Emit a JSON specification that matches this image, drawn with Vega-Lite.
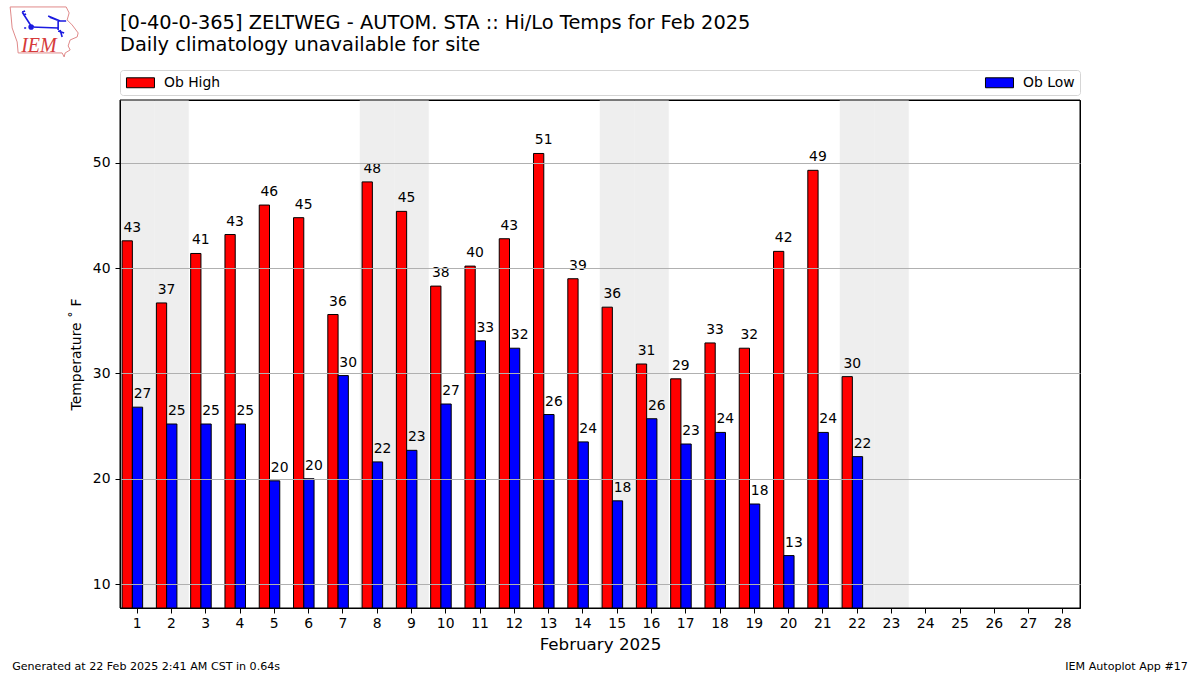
{
"$schema":"https://vega.github.io/schema/vega-lite/v6.json",
"width":960,"height":508,
"autosize":"none",
"padding":{"left":120,"top":100,"right":120,"bottom":67},
"background":"white",
"config":{"font":"DejaVu Sans","view":{"stroke":"#000000","strokeWidth":1}},
"title":{"text":["[0-40-0-365] ZELTWEG - AUTOM. STA :: Hi/Lo Temps for Feb 2025","Daily climatology unavailable for site"],"anchor":"start","frame":"group","font":"DejaVu Sans","fontSize":19.4,"fontWeight":"normal","lineHeight":22,"color":"#000000","offset":-50},
"datasets":{
"temps":[
{"day":1,"series":"Ob High","temp":42.6},{"day":2,"series":"Ob High","temp":36.7},{"day":3,"series":"Ob High","temp":41.4},{"day":4,"series":"Ob High","temp":43.2},{"day":5,"series":"Ob High","temp":46.0},{"day":6,"series":"Ob High","temp":44.8},{"day":7,"series":"Ob High","temp":35.6},{"day":8,"series":"Ob High","temp":48.2},{"day":9,"series":"Ob High","temp":45.4},{"day":10,"series":"Ob High","temp":38.3},{"day":11,"series":"Ob High","temp":40.2},{"day":12,"series":"Ob High","temp":42.8},{"day":13,"series":"Ob High","temp":50.9},{"day":14,"series":"Ob High","temp":39.0},{"day":15,"series":"Ob High","temp":36.3},{"day":16,"series":"Ob High","temp":30.9},{"day":17,"series":"Ob High","temp":29.49},{"day":18,"series":"Ob High","temp":32.9},{"day":19,"series":"Ob High","temp":32.4},{"day":20,"series":"Ob High","temp":41.6},{"day":21,"series":"Ob High","temp":49.3},{"day":22,"series":"Ob High","temp":29.7},
{"day":1,"series":"Ob Low","temp":26.8},{"day":2,"series":"Ob Low","temp":25.2},{"day":3,"series":"Ob Low","temp":25.2},{"day":4,"series":"Ob Low","temp":25.2},{"day":5,"series":"Ob Low","temp":19.8},{"day":6,"series":"Ob Low","temp":20.0},{"day":7,"series":"Ob Low","temp":29.8},{"day":8,"series":"Ob Low","temp":21.6},{"day":9,"series":"Ob Low","temp":22.7},{"day":10,"series":"Ob Low","temp":27.1},{"day":11,"series":"Ob Low","temp":33.1},{"day":12,"series":"Ob Low","temp":32.4},{"day":13,"series":"Ob Low","temp":26.1},{"day":14,"series":"Ob Low","temp":23.5},{"day":15,"series":"Ob Low","temp":17.9},{"day":16,"series":"Ob Low","temp":25.7},{"day":17,"series":"Ob Low","temp":23.3},{"day":18,"series":"Ob Low","temp":24.4},{"day":19,"series":"Ob Low","temp":17.6},{"day":20,"series":"Ob Low","temp":12.7},{"day":21,"series":"Ob Low","temp":24.4},{"day":22,"series":"Ob Low","temp":22.1}
],
"weekend":[{"day":1},{"day":2},{"day":8},{"day":9},{"day":15},{"day":16},{"day":22},{"day":23}]
},
"layer":[
{"data":{"name":"weekend"},"mark":{"type":"rect","fill":"#eeeeee","stroke":"#eeeeee","strokeWidth":0.5},
 "encoding":{"x":{"field":"day","type":"ordinal"}}},
{"data":{"name":"temps"},"mark":{"type":"bar","stroke":"#000000","strokeWidth":1,"clip":true},
 "encoding":{
  "x":{"field":"day","type":"ordinal"},
  "xOffset":{"field":"series","type":"nominal"},
  "y":{"field":"temp","type":"quantitative"},
  "color":{"field":"series","type":"nominal",
    "scale":{"domain":["Ob High","Ob Low"],"range":["#ff0000","#0000ff"]},
    "legend":{"title":null,"orient":"none","legendX":0,"legendY":-30,"direction":"horizontal","columns":2,"columnPadding":762,
      "fillColor":"#ffffff","strokeColor":"#d5d5d5","cornerRadius":3,"padding":5,
      "symbolType":"M-0.86,-0.71H3.14V0.71H-0.86Z","symbolSize":196,"symbolStrokeColor":"#000000","symbolStrokeWidth":1,"symbolOpacity":1,
      "labelFont":"DejaVu Sans","labelFontSize":13.9,"labelColor":"#000000","labelOffset":24}}
 }},
{"data":{"values":[{"note":"plot frame"}]},"mark":{"type":"rect","fill":null,"stroke":"#000000","strokeWidth":1},"encoding":{}},
{"data":{"name":"temps"},"mark":{"type":"text","dx":5,"dy":-6,"baseline":"bottom","align":"center","fontSize":13.9,"color":"#000000"},
 "encoding":{
  "x":{"field":"day","type":"ordinal"},
  "xOffset":{"field":"series","type":"nominal"},
  "y":{"field":"temp","type":"quantitative"},
  "text":{"field":"temp","type":"quantitative","format":".0f"}
 }},
{"data":{"values":[{"note":"Generated at 22 Feb 2025 2:41 AM CST in 0.64s"}]},"mark":{"type":"text","align":"left","baseline":"middle","dx":-125,"dy":83,"fontSize":11.1,"color":"#000000"},
 "encoding":{"x":{"datum":1,"type":"ordinal"},"y":{"datum":10,"type":"quantitative"},"text":{"field":"note"}}},
{"data":{"values":[{"note":"IEM Autoplot App #17"}]},"mark":{"type":"text","align":"right","baseline":"middle","dx":125,"dy":83,"fontSize":11.1,"color":"#000000"},
 "encoding":{"x":{"datum":28,"type":"ordinal"},"y":{"datum":10,"type":"quantitative"},"text":{"field":"note"}}},
{"data":{"values":[{"note":"IEM"}]},"mark":{"type":"text","align":"left","baseline":"alphabetic","dx":-116,"dy":-111,"font":"Liberation Serif","fontStyle":"italic","fontSize":20,"color":"#d63a3a"},
 "encoding":{"x":{"datum":1,"type":"ordinal"},"y":{"datum":50,"type":"quantitative"},"text":{"field":"note"}}},
{"data":{"values":[{"note":"logo outline"}]},"mark":{"type":"point","shape":"M-34,-26L22,-26L25,-20L23,-13L28,-8L34,0L33,4L26,7L24,13L26,17L21,20L20,24L18,20L-26,20L-27,9L-32,-5L-33,-16Z","size":4,"filled":false,"stroke":"#e08a8a","strokeWidth":1,"opacity":1,"xOffset":-93,"yOffset":-130},
 "encoding":{"x":{"datum":1,"type":"ordinal"},"y":{"datum":50,"type":"quantitative"}}},
{"data":{"values":[{"note":"logo station"}]},"mark":{"type":"point","shape":"M-22,-21L-13,-7M-22,-21L-19,-22M-21,-18L-18,-19M-13,-6L14,-5M14,-12L22,-12M14,-12L14,-3M4,-17L16,-12M5,-16L13,-13M16,-3L18,4M14,-2L20,0M-15,-6a2,2 0 1,0 4,0a2,2 0 1,0 -4,0M-20,-5L-18,-5",
 "size":4,"filled":true,"fill":"#1a1ae0","stroke":"#1a1ae0","strokeWidth":1.6,"opacity":1,"xOffset":-93,"yOffset":-130},
 "encoding":{"x":{"datum":1,"type":"ordinal"},"y":{"datum":50,"type":"quantitative"}}}
],
"encoding":{
 "x":{"scale":{"type":"band","domain":[1,2,3,4,5,6,7,8,9,10,11,12,13,14,15,16,17,18,19,20,21,22,23,24,25,26,27,28],"paddingInner":0,"paddingOuter":0},
  "axis":{"title":"February 2025","titleFont":"DejaVu Sans","titleFontSize":16.7,"titleFontWeight":"normal","titleColor":"#000000","titlePadding":7,"labelAngle":0,"labelFontSize":13.9,"labelColor":"#000000","tickColor":"#000000","tickSize":5,"labelPadding":3,"domainColor":"#000000","grid":false,"zindex":1}},
 "xOffset":{"scale":{"domain":["Ob High","Ob Low","pad"],"range":[2.1,32.9],"paddingInner":0,"paddingOuter":0}},
 "y":{"scale":{"domain":[7.72,55.98],"nice":false,"zero":false},
  "axis":{"title":"Temperature ˚ F","titleFont":"DejaVu Sans","titleFontSize":13.9,"titleFontWeight":"normal","titleColor":"#000000","titlePadding":9,"values":[10,20,30,40,50],"labelFontSize":13.9,"labelColor":"#000000","tickColor":"#000000","tickSize":5,"labelPadding":5,"domainColor":"#000000","grid":true,"gridColor":"#b0b0b0","gridWidth":1,"zindex":1}}
}
}
